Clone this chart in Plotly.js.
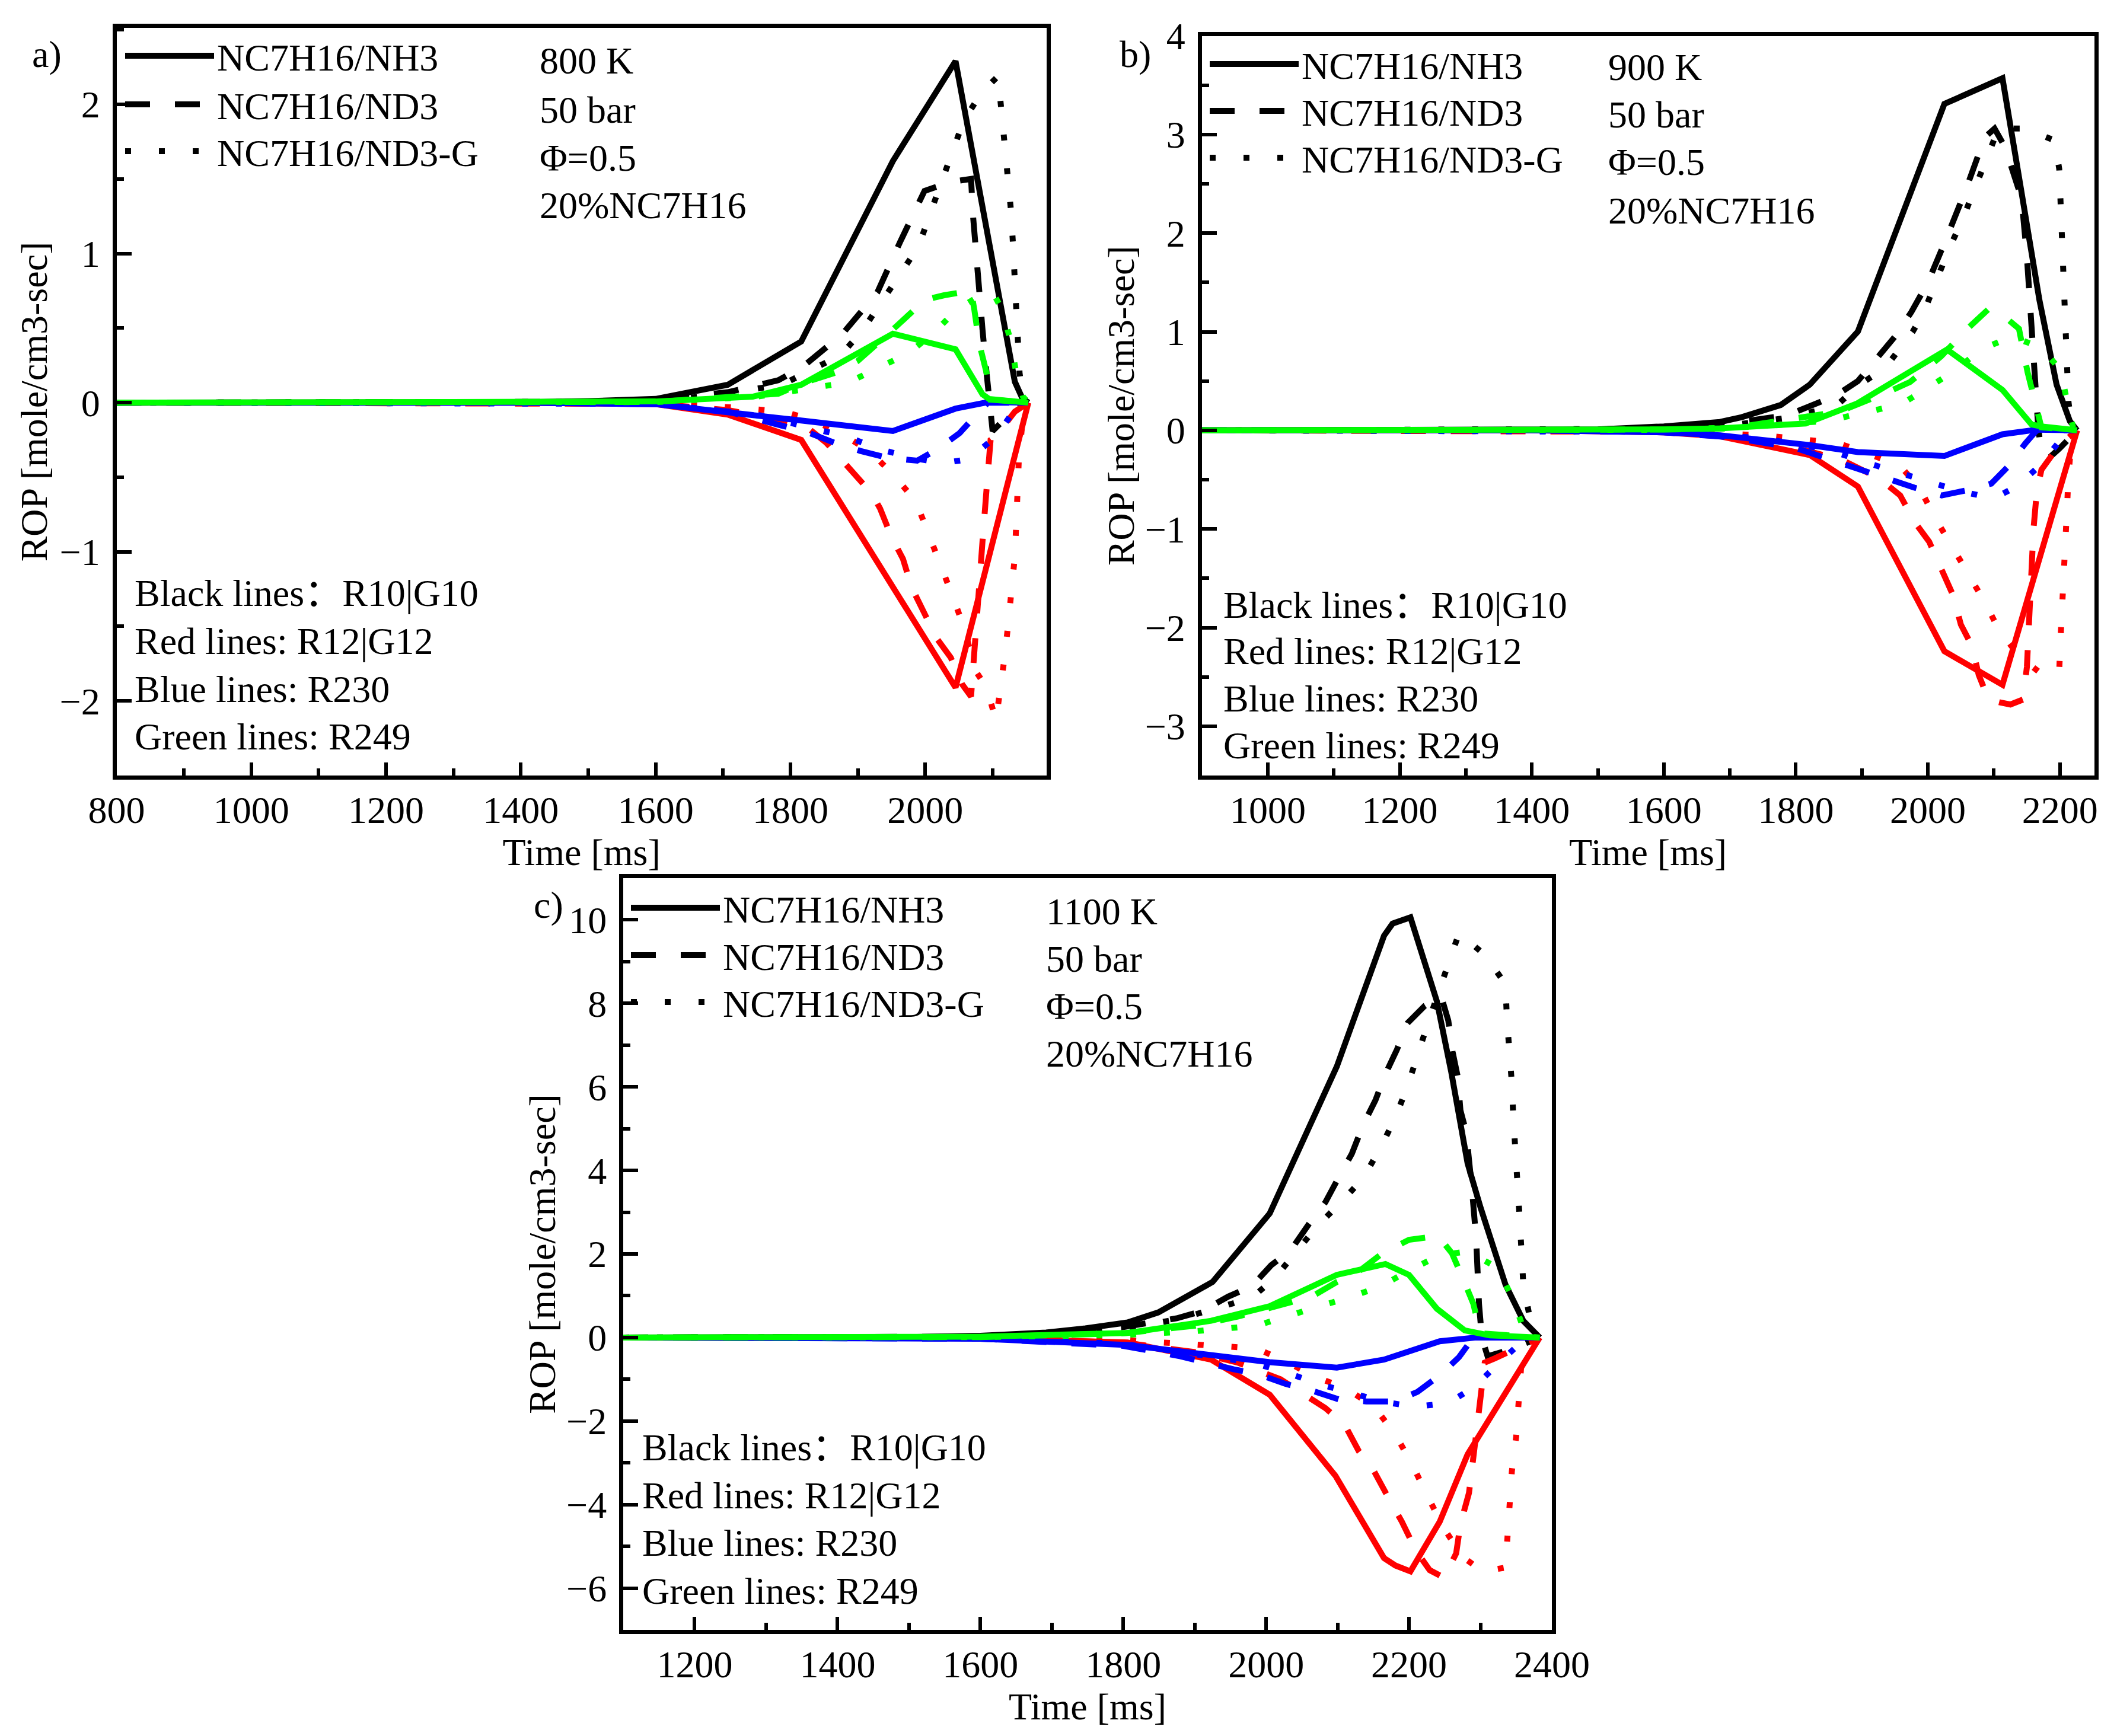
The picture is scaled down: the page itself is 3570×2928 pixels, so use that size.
<!DOCTYPE html>
<html><head><meta charset="utf-8">
<script src="https://cdn.plot.ly/plotly-3.0.1.min.js"></script>
<style>html,body{margin:0;padding:0;background:#fff}#chart{width:3570px;height:2928px}</style>
</head><body><div id="chart"></div>
<script>
// ---------- Panel a) 800 K ----------
const aBlackSolidT = [800, 1200, 1400, 1500, 1600, 1707, 1816, 1952, 2045, 2133, 2144, 2153];
const aBlackSolidV = [0, 0, 0.003, 0.01, 0.025, 0.12, 0.41, 1.62, 2.29, 0.14, 0.03, 0];
const aBlackDashT = [800, 1400, 1500, 1600, 1707, 1782, 1818, 1877, 1929, 1963, 1999, 2038, 2068, 2071, 2077, 2085, 2091, 2095, 2100, 2127, 2153];
const aBlackDashV = [0, 0.002, 0.006, 0.02, 0.07, 0.15, 0.24, 0.46, 0.74, 1.08, 1.42, 1.48, 1.50, 1.25, 0.87, 0.49, 0.2, 0.0, -0.19, -0.07, 0];
const aBlackDotT = [800, 1400, 1500, 1600, 1700, 1742, 1788, 1830, 1874, 1906, 1934, 1961, 1990, 2007, 2024, 2040, 2057, 2083, 2108, 2113, 2118, 2123, 2127, 2130, 2133, 2135, 2137, 2140, 2145, 2153];
const aBlackDotV = [0, 0.002, 0.006, 0.018, 0.05, 0.088, 0.121, 0.218, 0.316, 0.478, 0.663, 0.842, 1.046, 1.264, 1.47, 1.68, 1.89, 2.075, 2.19, 1.96, 1.74, 1.52, 1.30, 1.08, 0.85, 0.62, 0.41, 0.2, 0.02, 0];
const aRedSolidT = [800, 1400, 1600, 1707, 1816, 2045, 2153];
const aRedSolidV = [0, 0, -0.01, -0.08, -0.25, -1.91, 0];
const aRedDashT = [800, 1400, 1600, 1707, 1790, 1826, 1853, 1879, 1908, 1927, 1933, 1950, 1967, 1980, 1998, 2017, 2038, 2055, 2068, 2072, 2080, 2085, 2091, 2097, 2106, 2133, 2153];
const aRedDashV = [0, 0, -0.008, -0.05, -0.12, -0.17, -0.268, -0.398, -0.545, -0.66, -0.71, -0.90, -1.048, -1.24, -1.405, -1.58, -1.71, -1.89, -1.97, -1.75, -1.3, -0.93, -0.58, -0.25, -0.22, -0.06, 0];
const aRedDotT = [800, 1400, 1600, 1707, 1790, 1835, 1880, 1919, 1954, 1986, 2005, 2022, 2040, 2057, 2075, 2091, 2105, 2112, 2118, 2123, 2129, 2133, 2135, 2137, 2139, 2145, 2153];
const aRedDotV = [0, 0, -0.005, -0.03, -0.06, -0.12, -0.22, -0.33, -0.49, -0.66, -0.87, -1.08, -1.29, -1.50, -1.80, -1.91, -2.13, -1.92, -1.70, -1.49, -1.26, -1.03, -0.82, -0.59, -0.37, -0.1, 0];
const aBlueSolidT = [800, 1400, 1600, 1707, 1816, 1952, 2045, 2095, 2153];
const aBlueSolidV = [0, 0, -0.01, -0.06, -0.12, -0.19, -0.04, 0.005, 0];
const aBlueDashT = [800, 1400, 1600, 1707, 1788, 1826, 1866, 1904, 1946, 1988, 2019, 2051, 2080, 2093, 2153];
const aBlueDashV = [0, 0, -0.01, -0.06, -0.155, -0.20, -0.27, -0.324, -0.372, -0.389, -0.31, -0.204, -0.06, 0.0, 0];
const aBlueDotT = [800, 1400, 1600, 1750, 1833, 1885, 1931, 1980, 2026, 2064, 2103, 2131, 2153];
const aBlueDotV = [0, 0, -0.008, -0.08, -0.17, -0.23, -0.31, -0.37, -0.405, -0.38, -0.236, -0.06, 0];
const aGreenSolidT = [800, 1400, 1600, 1744, 1816, 1952, 2045, 2085, 2095, 2153];
const aGreenSolidV = [0, 0, 0.008, 0.04, 0.12, 0.462, 0.358, 0.056, 0.024, 0];
const aGreenDashT = [800, 1400, 1600, 1782, 1818, 1866, 1900, 1935, 1988, 2000, 2028, 2068, 2073, 2080, 2091, 2097, 2153];
const aGreenDashV = [0, 0, 0.005, 0.06, 0.13, 0.20, 0.28, 0.42, 0.64, 0.69, 0.72, 0.75, 0.62, 0.40, 0.20, 0.02, 0];
const aGreenDotT = [800, 1400, 1600, 1750, 1835, 1887, 1931, 1975, 2013, 2047, 2091, 2100, 2114, 2127, 2135, 2145, 2153];
const aGreenDotV = [0, 0, 0.004, 0.04, 0.098, 0.137, 0.235, 0.33, 0.47, 0.624, 0.745, 0.74, 0.625, 0.41, 0.20, 0.04, 0];

// ---------- Panel b) 900 K ----------
const bBlackSolidT = [900, 1400, 1500, 1600, 1685, 1718, 1777, 1821, 1894, 2025, 2113, 2136, 2169, 2195, 2215, 2226];
const bBlackSolidV = [0, 0.002, 0.01, 0.04, 0.085, 0.134, 0.257, 0.463, 1.003, 3.31, 3.57, 2.65, 1.32, 0.463, 0.095, 0];
const bBlackDashT = [900, 1400, 1600, 1700, 1787, 1821, 1860, 1894, 1923, 1950, 1975, 2000, 2027, 2058, 2086, 2101, 2117, 2132, 2142, 2150, 2155, 2161, 2167, 2172, 2185, 2200, 2226];
const bBlackDashV = [0, 0, 0.02, 0.07, 0.154, 0.243, 0.35, 0.5, 0.73, 0.95, 1.2, 1.5, 1.93, 2.45, 2.97, 3.06, 2.87, 2.57, 2.35, 1.76, 1.20, 0.63, 0.05, -0.25, -0.27, -0.18, 0];
const bBlackDotT = [900, 1400, 1600, 1700, 1780, 1860, 1894, 1936, 1960, 1977, 1994, 2013, 2032, 2052, 2069, 2088, 2107, 2146, 2192, 2199, 2201, 2203, 2205, 2207, 2209, 2211, 2213, 2218, 2226];
const bBlackDotV = [0, 0, 0.015, 0.05, 0.12, 0.24, 0.45, 0.64, 0.85, 1.0, 1.2, 1.52, 1.84, 2.13, 2.43, 2.74, 3.06, 3.06, 2.94, 2.65, 2.30, 1.96, 1.64, 1.30, 0.95, 0.63, 0.29, 0.02, 0];
const bRedSolidT = [900, 1400, 1600, 1685, 1821, 1894, 2025, 2113, 2226];
const bRedSolidV = [0, 0, -0.02, -0.06, -0.25, -0.57, -2.24, -2.58, 0];
const bRedDashT = [900, 1400, 1600, 1700, 1800, 1870, 1927, 1958, 1981, 2002, 2023, 2038, 2050, 2067, 2077, 2092, 2110, 2125, 2144, 2150, 2155, 2160, 2165, 2172, 2199, 2226];
const bRedDashV = [0, 0, -0.015, -0.06, -0.18, -0.3, -0.49, -0.66, -0.94, -1.13, -1.45, -1.67, -1.97, -2.19, -2.48, -2.73, -2.76, -2.78, -2.73, -2.4, -1.7, -1.0, -0.62, -0.40, -0.15, 0];
const bRedDotT = [900, 1400, 1600, 1750, 1864, 1911, 1958, 1988, 2011, 2036, 2061, 2086, 2109, 2140, 2178, 2199, 2201, 2203, 2205, 2207, 2211, 2213, 2217, 2226];
const bRedDotV = [0, 0, -0.01, -0.05, -0.13, -0.24, -0.36, -0.59, -0.89, -1.17, -1.46, -1.74, -2.04, -2.3, -2.50, -2.43, -2.11, -1.77, -1.45, -1.11, -0.76, -0.45, -0.15, 0];
const bBlueSolidT = [900, 1400, 1600, 1685, 1821, 1894, 2025, 2113, 2165, 2226];
const bBlueSolidV = [0, 0, -0.02, -0.05, -0.15, -0.22, -0.26, -0.04, 0.007, 0];
const bBlueDashT = [900, 1400, 1600, 1700, 1800, 1864, 1898, 1940, 1979, 2021, 2057, 2096, 2121, 2148, 2165, 2226];
const bBlueDashV = [0, 0, -0.02, -0.07, -0.18, -0.32, -0.40, -0.50, -0.58, -0.66, -0.61, -0.54, -0.37, -0.13, 0, 0];
const bBlueDotT = [900, 1400, 1600, 1750, 1850, 1913, 1958, 2004, 2050, 2100, 2134, 2171, 2203, 2226];
const bBlueDotV = [0, 0, -0.015, -0.08, -0.2, -0.34, -0.43, -0.53, -0.62, -0.69, -0.57, -0.35, -0.08, 0];
const bGreenSolidT = [900, 1400, 1600, 1685, 1815, 1892, 2029, 2113, 2157, 2172, 2226];
const bGreenSolidV = [0, 0, 0.01, 0.02, 0.07, 0.27, 0.82, 0.41, 0.06, 0.04, 0];
const bGreenDashT = [900, 1400, 1600, 1700, 1866, 1940, 1973, 2020, 2063, 2092, 2122, 2138, 2151, 2163, 2172, 2226];
const bGreenDashV = [0, 0, 0.008, 0.02, 0.19, 0.39, 0.49, 0.75, 1.05, 1.23, 1.12, 1.03, 0.59, 0.27, 0.03, 0];
const bGreenDotT = [900, 1400, 1600, 1750, 1850, 1911, 1961, 2002, 2044, 2080, 2127, 2172, 2201, 2211, 2220, 2226];
const bGreenDotV = [0, 0, 0.005, 0.04, 0.10, 0.19, 0.27, 0.44, 0.62, 0.82, 0.95, 0.84, 0.61, 0.29, 0.03, 0];

// ---------- Panel c) 1100 K ----------
const cBlackSolidT = [1100, 1400, 1500, 1600, 1692, 1747, 1806, 1849, 1925, 2005, 2099, 2165, 2177, 2202, 2239, 2259, 2282, 2300, 2335, 2360, 2383];
const cBlackSolidV = [0, 0, 0.01, 0.04, 0.12, 0.22, 0.36, 0.6, 1.33, 2.97, 6.49, 9.62, 9.91, 10.06, 8.05, 6.37, 4.17, 3.12, 1.27, 0.4, 0];
const cBlackDashT = [1100, 1400, 1600, 1700, 1800, 1875, 1910, 1947, 1980, 2007, 2034, 2060, 2083, 2103, 2120, 2136, 2153, 2167, 2183, 2198, 2222, 2245, 2255, 2261, 2268, 2272, 2280, 2288, 2294, 2298, 2302, 2310, 2340, 2383];
const cBlackDashV = [0, 0, 0.02, 0.08, 0.25, 0.46, 0.63, 0.98, 1.23, 1.73, 2.08, 2.72, 3.24, 3.88, 4.40, 5.10, 5.68, 6.31, 6.89, 7.53, 7.94, 8.17, 7.59, 6.84, 6.26, 5.44, 4.92, 3.59, 2.37, 0.8, 0.0, -0.45, -0.3, 0];
const cBlackDotT = [1100, 1400, 1600, 1700, 1800, 1880, 1931, 1980, 2013, 2040, 2071, 2105, 2136, 2161, 2181, 2198, 2212, 2227, 2242, 2257, 2270, 2307, 2335, 2337, 2341, 2344, 2346, 2350, 2352, 2355, 2358, 2360, 2370, 2383];
const cBlackDotV = [0, 0, 0.015, 0.06, 0.2, 0.45, 0.69, 0.95, 1.44, 2.02, 2.66, 3.24, 3.82, 4.57, 5.27, 6.02, 6.81, 7.55, 8.3, 9.10, 9.68, 9.15, 8.46, 7.65, 6.89, 6.08, 5.27, 4.46, 3.65, 2.83, 2.08, 1.27, 0.4, 0];
const cRedSolidT = [1100, 1400, 1600, 1806, 1923, 2005, 2097, 2165, 2181, 2202, 2243, 2282, 2383];
const cRedSolidV = [0, 0, -0.02, -0.12, -0.53, -1.37, -3.31, -5.28, -5.46, -5.60, -4.41, -2.80, 0];
const cRedDashT = [1100, 1400, 1600, 1800, 1900, 1960, 2020, 2083, 2110, 2130, 2151, 2171, 2190, 2210, 2229, 2249, 2266, 2272, 2284, 2292, 2300, 2306, 2320, 2350, 2383];
const cRedDashV = [0, 0, -0.02, -0.12, -0.35, -0.6, -1.0, -1.69, -2.09, -2.73, -3.20, -3.83, -4.41, -5.11, -5.57, -5.75, -5.17, -4.47, -3.72, -2.6, -1.3, -0.6, -0.5, -0.25, 0];
const cRedDotT = [1100, 1400, 1600, 1800, 1900, 1941, 1986, 2025, 2071, 2110, 2151, 2181, 2204, 2225, 2250, 2275, 2303, 2335, 2338, 2341, 2344, 2350, 2354, 2357, 2365, 2383];
const cRedDotV = [0, 0, -0.01, -0.06, -0.15, -0.21, -0.26, -0.55, -0.96, -1.2, -1.65, -2.33, -3.02, -3.77, -4.6, -5.25, -5.6, -5.51, -4.76, -3.95, -3.2, -2.38, -1.57, -0.7, -0.2, 0];
const cBlueSolidT = [1100, 1400, 1600, 1806, 1923, 2005, 2099, 2165, 2243, 2294, 2383];
const cBlueSolidV = [0, 0, -0.03, -0.18, -0.41, -0.59, -0.72, -0.53, -0.09, 0, 0];
const cBlueDashT = [1100, 1400, 1600, 1800, 1880, 1954, 1988, 2027, 2062, 2103, 2140, 2181, 2212, 2245, 2270, 2290, 2383];
const cBlueDashV = [0, 0, -0.03, -0.2, -0.45, -0.76, -0.87, -1.11, -1.26, -1.49, -1.53, -1.53, -1.30, -0.88, -0.47, 0, 0];
const cBlueDotT = [1100, 1400, 1600, 1800, 1900, 1980, 2029, 2073, 2114, 2161, 2208, 2255, 2290, 2323, 2360, 2383];
const cBlueDotV = [0, 0, -0.02, -0.15, -0.4, -0.6, -0.84, -1.11, -1.30, -1.53, -1.66, -1.57, -1.20, -0.64, -0.06, 0];
const cGreenSolidT = [1100, 1400, 1600, 1806, 1923, 2005, 2099, 2167, 2200, 2239, 2278, 2313, 2383];
const cGreenSolidV = [0, 0, 0.02, 0.11, 0.40, 0.75, 1.50, 1.76, 1.50, 0.69, 0.17, 0.05, 0];
const cGreenDashT = [1100, 1400, 1600, 1800, 1900, 1960, 2029, 2064, 2099, 2128, 2163, 2200, 2241, 2260, 2276, 2290, 2300, 2383];
const cGreenDashV = [0, 0, 0.01, 0.1, 0.28, 0.5, 0.81, 0.98, 1.33, 1.56, 2.02, 2.34, 2.43, 2.02, 1.39, 0.81, 0.1, 0];
const cGreenDotT = [1100, 1400, 1600, 1800, 1900, 1986, 2029, 2075, 2120, 2161, 2202, 2243, 2282, 2323, 2344, 2360, 2383];
const cGreenDotV = [0, 0, 0.01, 0.06, 0.15, 0.28, 0.52, 0.75, 0.98, 1.23, 1.62, 1.97, 2.06, 1.68, 0.98, 0.23, 0];

const seriesNames = ['NC7H16/NH3', 'NC7H16/ND3', 'NC7H16/ND3-G'];
const conditionText = {a: ['800 K', '50 bar', 'Φ=0.5', '20%NC7H16'], b: ['900 K', '50 bar', 'Φ=0.5', '20%NC7H16'], c: ['1100 K', '50 bar', 'Φ=0.5', '20%NC7H16']};
const colorNotes = ['Black lines：R10|G10', 'Red lines: R12|G12', 'Blue lines: R230', 'Green lines: R249'];

const FONT = 'Liberation Serif, Times New Roman, Noto Sans CJK SC, serif';
const FS = 64;
const COL = {black: '#000000', red: '#ff0000', blue: '#0000ff', green: '#00ff00'};
const DASH = ['solid', '42px,42px', '10px,47px'];
const LW = 10;

const panelData = {
  a: {black: [[aBlackSolidT, aBlackSolidV], [aBlackDashT, aBlackDashV], [aBlackDotT, aBlackDotV]],
      red: [[aRedSolidT, aRedSolidV], [aRedDashT, aRedDashV], [aRedDotT, aRedDotV]],
      blue: [[aBlueSolidT, aBlueSolidV], [aBlueDashT, aBlueDashV], [aBlueDotT, aBlueDotV]],
      green: [[aGreenSolidT, aGreenSolidV], [aGreenDashT, aGreenDashV], [aGreenDotT, aGreenDotV]]},
  b: {black: [[bBlackSolidT, bBlackSolidV], [bBlackDashT, bBlackDashV], [bBlackDotT, bBlackDotV]],
      red: [[bRedSolidT, bRedSolidV], [bRedDashT, bRedDashV], [bRedDotT, bRedDotV]],
      blue: [[bBlueSolidT, bBlueSolidV], [bBlueDashT, bBlueDashV], [bBlueDotT, bBlueDotV]],
      green: [[bGreenSolidT, bGreenSolidV], [bGreenDashT, bGreenDashV], [bGreenDotT, bGreenDotV]]},
  c: {black: [[cBlackSolidT, cBlackSolidV], [cBlackDashT, cBlackDashV], [cBlackDotT, cBlackDotV]],
      red: [[cRedSolidT, cRedSolidV], [cRedDashT, cRedDashV], [cRedDotT, cRedDotV]],
      blue: [[cBlueSolidT, cBlueSolidV], [cBlueDashT, cBlueDashV], [cBlueDotT, cBlueDotV]],
      green: [[cGreenSolidT, cGreenSolidV], [cGreenDashT, cGreenDashV], [cGreenDotT, cGreenDotV]]}
};
const axesOf = {a: ['x', 'y'], b: ['x2', 'y2'], c: ['x3', 'y3']};
const legendBase = {a: 0, b: 3, c: 6};
const legendName = n => n === 0 ? 'legend' : 'legend' + (n + 1);

const traces = [];
['a', 'b', 'c'].forEach(p => {
  ['black', 'red', 'blue', 'green'].forEach(col => {
    panelData[p][col].forEach((s, i) => {
      traces.push({
        type: 'scatter', mode: 'lines', x: s[0], y: s[1],
        xaxis: axesOf[p][0], yaxis: axesOf[p][1],
        name: seriesNames[i], legend: legendName(legendBase[p] + i),
        showlegend: col === 'black',
        line: {color: COL[col], width: LW, dash: DASH[i]},
        hoverinfo: 'skip'
      });
    });
  });
});

function xax(domain, range, anchor) {
  return {domain: domain, range: range, anchor: anchor, tick0: 0, dtick: 200,
    ticks: 'inside', ticklen: 22, tickwidth: 6, tickcolor: '#000',
    minor: {dtick: 100, ticks: 'inside', ticklen: 12, tickwidth: 6, tickcolor: '#000'},
    showline: true, linewidth: 7, linecolor: '#000', mirror: true,
    showgrid: false, zeroline: false, ticklabelstandoff: -4,
    tickfont: {family: FONT, size: FS, color: '#000'},
    title: {text: 'Time [ms]', font: {family: FONT, size: FS, color: '#000'}, standoff: 0}};
}
function yax(domain, range, anchor, dt, so) {
  return {domain: domain, range: range, anchor: anchor, tick0: 0, dtick: dt,
    ticks: 'inside', ticklen: 25, tickwidth: 6, tickcolor: '#000',
    minor: {dtick: dt / 2, ticks: 'inside', ticklen: 12, tickwidth: 6, tickcolor: '#000'},
    showline: true, linewidth: 7, linecolor: '#000', mirror: true,
    showgrid: false, zeroline: false, ticklabelstandoff: 8,
    tickfont: {family: FONT, size: FS, color: '#000'},
    title: {text: 'ROP [mole/cm3-sec]', font: {family: FONT, size: FS, color: '#000'}, standoff: so}};
}

const W = 3570, H = 2928;
const px = v => v / W, py = v => 1 - v / H;
function legendAt(x, yTop) {
  return {x: px(x), y: py(yTop), xref: 'paper', yref: 'paper', xanchor: 'left', yanchor: 'top',
    bgcolor: 'rgba(0,0,0,0)', borderwidth: 0, itemwidth: 150, tracegroupgap: 0,
    font: {family: FONT, size: FS, color: '#000'}};
}
// legend rows: [left, top of each row]
const legendRows = {a: [206, [46, 128, 207]], b: [2035, [60, 139, 218]], c: [1059, [1483, 1563, 1642]]};

const annotations = [];
function txt(x, y, t, anchor) {
  annotations.push({xref: 'paper', yref: 'paper', x: px(x), y: py(y), text: t, showarrow: false,
    xanchor: anchor || 'left', yanchor: 'middle', font: {family: FONT, size: FS, color: '#000'}});
}
const blocks = {
  a: {lab: [79, 92], cx: 908, cy: [103, 185, 267, 346], nx: 225, ny: [1000, 1081, 1162, 1242]},
  b: {lab: [1914, 91], cx: 2710, cy: [114, 193, 273, 356], nx: 2061, ny: [1020, 1099, 1178, 1257]},
  c: {lab: [925, 1527], cx: 1762, cy: [1537, 1617, 1697, 1777], nx: 1081, ny: [2441, 2522, 2602, 2683]}
};
['a', 'b', 'c'].forEach(p => {
  const B = blocks[p];
  txt(B.lab[0], B.lab[1], p + ')', 'center');
  conditionText[p].forEach((t, i) => txt(B.cx, B.cy[i], t));
  colorNotes.forEach((t, i) => txt(B.nx, B.ny[i], t));
});

const layout = {
  width: W, height: H, margin: {l: 0, r: 0, t: 0, b: 0},
  paper_bgcolor: '#fff', plot_bgcolor: '#fff',
  font: {family: FONT, size: FS, color: '#000'},
  xaxis: xax([px(196.5), px(1764.8)], [800, 2180], 'y'),
  yaxis: yax([1 - 1308 / H, 1 - 47 / H], [-2.5, 2.513], 'x', 1, 3),
  xaxis2: xax([px(2026.6), px(3531.6)], [900, 2252], 'y2'),
  yaxis2: yax([1 - 1308 / H, 1 - 60.5 / H], [-3.5, 4], 'x2', 1, 0),
  xaxis3: xax([px(1051), px(2617)], [1100, 2400], 'y3'),
  yaxis3: yax([1 - 2749 / H, 1 - 1481 / H], [-7, 11], 'x3', 2, 0),
  annotations: annotations
};
['a', 'b', 'c'].forEach(p => {
  legendRows[p][1].forEach((top, i) => {
    layout[legendName(legendBase[p] + i)] = legendAt(legendRows[p][0], top);
  });
});

Plotly.newPlot('chart', traces, layout, {staticPlot: true, displayModeBar: false});
</script></body></html>
